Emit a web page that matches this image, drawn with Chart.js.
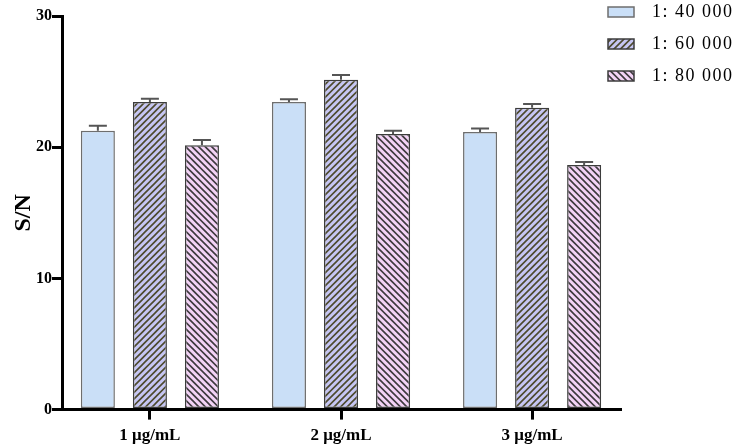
<!DOCTYPE html>
<html>
<head>
<meta charset="utf-8">
<script src="https://cdn.jsdelivr.net/npm/chart.js@4.4.0/dist/chart.umd.min.js"></script>
<style>
    html, body { margin: 0; padding: 0; background: #fff; }
    #wrap { width: 734px; height: 446px; }
</style>
</head>
<body>
<div id="wrap"><canvas id="chart" width="734" height="446"></canvas></div>
<script>
// 数据
const categories = ['1 μg/mL', '2 μg/mL', '3 μg/mL'];
const seriesNames = ['1: 40 000', '1: 60 000', '1: 80 000'];
const values40k = [21.25, 23.45, 21.15];
const values60k = [23.45, 25.15, 23.0];
const values80k = [20.15, 21.0, 18.65];
const err40k = [0.38, 0.2, 0.28];
const err60k = [0.25, 0.36, 0.3];
const err80k = [0.4, 0.25, 0.23];
const yTicks = [0, 10, 20, 30];

const serif = "'Liberation Serif', 'Times New Roman', serif";

// 斜线填充
function makeHatch(bg, line, dir) {
    const s = 6.5;
    const c = document.createElement('canvas');
    c.width = 13; c.height = 13;
    const g = c.getContext('2d');
    g.fillStyle = bg;
    g.fillRect(0, 0, 13, 13);
    g.strokeStyle = line;
    g.lineWidth = 1.6;
    g.beginPath();
    for (let k = -2; k <= 4; k++) {
        const o = k * s;
        if (dir === '/') {
            g.moveTo(o - 1, 14); g.lineTo(o + 14, -1);
        } else {
            g.moveTo(o - 1, -1); g.lineTo(o + 14, 14);
        }
    }
    g.stroke();
    return g.createPattern(c, 'repeat');
}

const fill40k = '#cadff7';
const fill60k = makeHatch('#c6c6f3', '#4d4a2e', '/');
const fill80k = makeHatch('#f3d3f6', '#3e3a3e', '\\');

// 误差线
const errorBars = {
    id: 'errorBars',
    afterDatasetsDraw(chart) {
        const ctx = chart.ctx;
        const y = chart.scales.y;
        chart.data.datasets.forEach((ds, i) => {
            const meta = chart.getDatasetMeta(i);
            meta.data.forEach((bar, j) => {
                const top = y.getPixelForValue(ds.data[j].y + ds.errors[j]);
                ctx.save();
                ctx.strokeStyle = '#555';
                ctx.lineWidth = 2;
                ctx.beginPath();
                ctx.moveTo(bar.x, bar.y);
                ctx.lineTo(bar.x, top);
                ctx.moveTo(bar.x - 9, top);
                ctx.lineTo(bar.x + 9, top);
                ctx.stroke();
                ctx.restore();
            });
        });
    }
};

// 图例（右上角）
const cornerLegend = {
    id: 'cornerLegend',
    afterDraw(chart) {
        const ctx = chart.ctx;
        ctx.save();
        chart.data.datasets.forEach((ds, i) => {
            const cy = 12 + i * 32;
            ctx.fillStyle = ds.backgroundColor;
            ctx.fillRect(608, cy - 5, 26, 10);
            ctx.strokeStyle = ds.borderColor;
            ctx.lineWidth = 1.5;
            ctx.strokeRect(608, cy - 5, 26, 10);
            ctx.fillStyle = '#000';
            ctx.font = '18px ' + serif;
            ctx.letterSpacing = '1.5px';
            ctx.textBaseline = 'middle';
            ctx.textAlign = 'left';
            ctx.fillText(ds.label, 652, cy);
        });
        ctx.restore();
    }
};

const toPoints = arr => arr.map((v, i) => ({ x: i + 1, y: v }));

const datasets = [
    { label: seriesNames[0], data: toPoints(values40k), errors: err40k, backgroundColor: fill40k, borderColor: '#6e6e6e' },
    { label: seriesNames[1], data: toPoints(values60k), errors: err60k, backgroundColor: fill60k, borderColor: '#3c3c3c' },
    { label: seriesNames[2], data: toPoints(values80k), errors: err80k, backgroundColor: fill80k, borderColor: '#3c3c3c' }
].map(d => Object.assign(d, {
    borderWidth: 1.5,
    borderSkipped: false,
    categoryPercentage: 0.817,
    barPercentage: 0.654
}));

new Chart(document.getElementById('chart'), {
    type: 'bar',
    data: { datasets: datasets },
    options: {
        responsive: false,
        devicePixelRatio: 1,
        animation: false,
        layout: { padding: { left: 0, right: 114, top: 16, bottom: -6 } },
        plugins: {
            legend: { display: false },
            tooltip: { enabled: false }
        },
        scales: {
            x: {
                type: 'linear',
                min: 0.54,
                max: 3.46,
                offset: false,
                afterBuildTicks: axis => { axis.ticks = categories.map((c, i) => ({ value: i + 1 })); },
                grid: { offset: false, drawOnChartArea: false, drawTicks: true, tickLength: 10, lineWidth: 3, color: '#000' },
                border: { display: true, color: '#000', width: 3 },
                ticks: {
                    color: '#000', padding: 6,
                    font: { family: serif, size: 17, weight: 'bold' },
                    callback: v => categories[v - 1]
                }
            },
            y: {
                min: 0,
                max: 30,
                afterBuildTicks: axis => { axis.ticks = yTicks.map(v => ({ value: v })); },
                grid: { drawOnChartArea: false, drawTicks: true, tickLength: 10, lineWidth: 3, color: '#000' },
                border: { display: true, color: '#000', width: 3 },
                ticks: { color: '#000', padding: 0, font: { family: serif, size: 16, weight: 'bold' } },
                title: {
                    display: true, text: 'S/N', color: '#000',
                    padding: { top: 12, bottom: 0 },
                    font: { family: serif, size: 24, weight: 'bold', lineHeight: 1 }
                }
            }
        }
    },
    plugins: [errorBars, cornerLegend]
});
</script>
</body>
</html>
